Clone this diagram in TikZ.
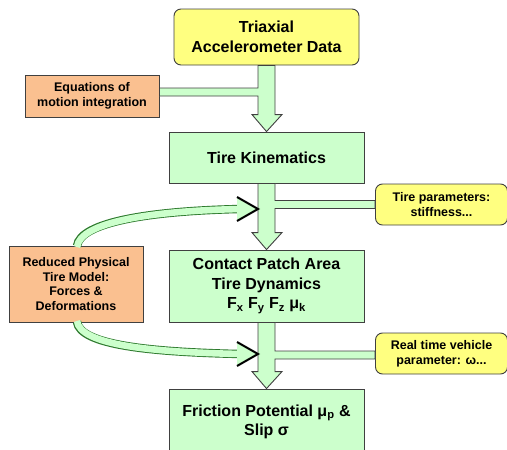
\documentclass[tikz,border=0pt]{standalone}
\usepackage{fontspec}
\setmainfont{Liberation Sans}
\usetikzlibrary{calc}
\definecolor{boxgreen}{HTML}{CCFFCC}
\definecolor{boxyellow}{HTML}{FFFF80}
\definecolor{boxorange}{HTML}{FAC090}
\definecolor{edge}{HTML}{404040}
\tikzset{
  bigbox/.style={draw=edge, line width=0.9pt, fill=boxgreen, minimum width=195pt, align=center,
    font=\bfseries\fontsize{16}{19.5}\selectfont, inner sep=0pt},
  inbox/.style={draw=edge, line width=0.9pt, fill=boxyellow, rounded corners=7pt, align=center, inner sep=0pt},
  sidebox/.style={draw=edge, line width=0.9pt, align=center, inner sep=0pt,
    font=\bfseries\fontsize{12.5}{14.7}\selectfont},
  blockarrow/.style={draw=edge, line width=0.9pt, fill=boxgreen, line join=miter},
  curveout/.style={draw=edge!70!green, line width=8.4pt},
  curvein/.style={draw=boxgreen, line width=6.6pt},
  chevron/.style={draw=black, line width=2pt, line join=miter, line cap=butt}
}
\begin{document}
\begin{tikzpicture}[x=1pt, y=-1pt]
\useasboundingbox (0,0) rectangle (507,450);
% nodes
\node[inbox, minimum width=185pt, minimum height=56pt, font=\bfseries\fontsize{16}{19.5}\selectfont] (tri) at (266.5,37) {Triaxial\\Accelerometer Data};
\node[sidebox, fill=boxorange, minimum width=134pt, minimum height=42pt] (eq) at (92,96) {Equations of\\motion integration};
\node[bigbox, minimum height=51pt] (kin) at (266.5,157.5) {Tire Kinematics};
\node[inbox, sidebox, fill=boxyellow, rounded corners=7pt, minimum width=132pt, minimum height=41pt] (par) at (441.5,204.5) {Tire parameters:\\stiffness...};
\node[sidebox, fill=boxorange, minimum width=134pt, minimum height=76pt] (red) at (76,284) {Reduced Physical\\Tire Model:\\Forces \&\\Deformations};
\node[bigbox, minimum height=72pt] (con) at (266.5,286) {Contact Patch Area\\Tire Dynamics\\F\textsubscript{x} F\textsubscript{y} F\textsubscript{z} μ\textsubscript{k}};
\node[inbox, sidebox, fill=boxyellow, rounded corners=7pt, minimum width=132pt, minimum height=41pt] (rt) at (441.5,353.5) {Real time vehicle\\parameter: ω...};
\node[bigbox, minimum height=66pt] (fri) at (266.5,422) {Friction Potential μ\textsubscript{p} \&\\Slip σ};
% block arrows
\draw[blockarrow] ($(tri.south)+(-8.5,0)$) |- ($(eq.east)+(0,-8)$) -- (eq.east)
  -| ($(kin.north)+(-8.5,-17)$) -- ++(-6,0) -- (kin.north) -- ++(15.5,-17) -- ++(-7,0)
  -- ($(tri.south)+(8.5,0)$) -- cycle;
\draw[blockarrow] ($(kin.south)+(-8.5,0)$) -- ($(con.north)+(-8.5,-17)$) -- ++(-6,0) -- (con.north)
  -- ++(15.5,-17) -- ++(-7,0) |- ($(par.west)+(0,4)$) -- ($(par.west)+(0,-4)$)
  -| ($(kin.south)+(8.5,0)$) -- cycle;
\draw[blockarrow] ($(con.south)+(-8.5,0)$) -- ($(fri.north)+(-8.5,-17)$) -- ++(-6,0) -- (fri.north)
  -- ++(15.5,-17) -- ++(-7,0) |- ($(rt.west)+(0,5.5)$) -- ($(rt.west)+(0,-2.5)$)
  -| ($(con.south)+(8.5,0)$) -- cycle;
% curved arrows
\coordinate (tip1) at (258,209);
\coordinate (tip2) at (258,354);
\draw[curveout] ($(red.north)+(1,0.5)$) .. controls (80,222) and (150,211) .. ($(tip1)+(-18,0)$);
\draw[curvein] ($(red.north)+(1,1.5)$) .. controls (80,222) and (150,211) .. ($(tip1)+(-18,0)$);
\fill[boxgreen] ($(tip1)+(-21,-12)$) -- (tip1) -- ($(tip1)+(-21,12)$) -- cycle;
\draw[chevron] ($(tip1)+(-21,-12)$) -- (tip1) -- ($(tip1)+(-21,12)$);
\draw[curveout] ($(red.south)+(1,-0.5)$) .. controls (80,345) and (150,352) .. ($(tip2)+(-18,0)$);
\draw[curvein] ($(red.south)+(1,-1.5)$) .. controls (80,345) and (150,352) .. ($(tip2)+(-18,0)$);
\fill[boxgreen] ($(tip2)+(-21,-12)$) -- (tip2) -- ($(tip2)+(-21,12)$) -- cycle;
\draw[chevron] ($(tip2)+(-21,-12)$) -- (tip2) -- ($(tip2)+(-21,12)$);
\end{tikzpicture}
\end{document}
